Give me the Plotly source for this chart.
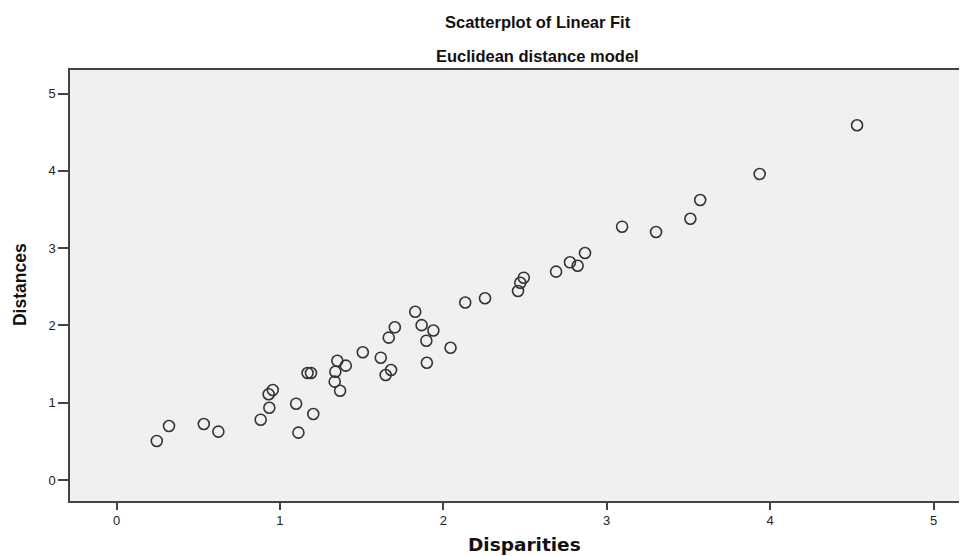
import plotly.graph_objects as go

# Data (Disparities vs Distances)
disparities = [0.246, 0.321, 0.534, 0.623, 0.882, 0.935, 0.931, 0.956, 1.099, 1.113,
               1.204, 1.169, 1.190, 1.335, 1.368, 1.339, 1.351, 1.403, 1.507, 1.617,
               1.680, 1.647, 1.666, 1.703, 1.828, 1.867, 1.939, 1.896, 1.899, 2.044,
               2.134, 2.255, 2.457, 2.471, 2.492, 2.690, 2.775, 2.822, 2.867, 3.094,
               3.302, 3.512, 3.572, 3.936, 4.532]
distances = [0.505, 0.699, 0.724, 0.625, 0.780, 0.935, 1.109, 1.164, 0.987, 0.612,
             0.854, 1.384, 1.384, 1.272, 1.155, 1.401, 1.543, 1.479, 1.652, 1.582,
             1.423, 1.358, 1.841, 1.975, 2.177, 2.003, 1.934, 1.802, 1.516, 1.711,
             2.296, 2.351, 2.445, 2.552, 2.617, 2.695, 2.816, 2.772, 2.937, 3.277,
             3.208, 3.380, 3.622, 3.959, 4.589]

tick_vals = [0, 1, 2, 3, 4, 5]
tick_text = ["0", "1", "2", "3", "4", "5"]

title_text = "Scatterplot of Linear Fit"
subtitle_text = "Euclidean distance model"
x_title = "Disparities"
y_title = "Distances"

fig = go.Figure()
fig.add_trace(go.Scatter(
    x=disparities, y=distances, mode="markers",
    marker=dict(symbol="circle-open", size=11, color="#333333",
                line=dict(width=1.6, color="#333333")),
    showlegend=False, hoverinfo="x+y",
))

axis_font = dict(family="Liberation Sans, Arial, sans-serif", size=13, color="#222222")

# The page body adds an 8px offset, so the figure is sized to the remaining window.
fig.update_layout(
    width=959, height=548,
    margin=dict(l=62, r=0, t=62, b=55),
    paper_bgcolor="white",
    plot_bgcolor="#f0f0f0",
    xaxis=dict(
        range=[-0.285, 5.205], tickvals=tick_vals, ticktext=tick_text,
        showgrid=False, zeroline=False, showline=True, linecolor="#444444",
        linewidth=1.5, mirror=True, ticks="outside", ticklen=7, tickwidth=1.5,
        tickcolor="#444444", tickfont=axis_font, fixedrange=True,
    ),
    yaxis=dict(
        range=[-0.272, 5.304], tickvals=tick_vals, ticktext=tick_text,
        showgrid=False, zeroline=False, showline=True, linecolor="#444444",
        linewidth=1.5, mirror=False, ticks="outside", ticklen=10, tickwidth=1.5,
        tickcolor="#444444", tickfont=axis_font, fixedrange=True,
    ),
    annotations=[
        dict(text=title_text, xref="paper", yref="paper", x=0.5217, y=1.112,
             xanchor="center", yanchor="middle", showarrow=False,
             font=dict(family="Liberation Sans, Arial, sans-serif", size=16.5,
                       color="#111111", weight="bold")),
        dict(text=subtitle_text, xref="paper", yref="paper", x=0.5217, y=1.0325,
             xanchor="center", yanchor="middle", showarrow=False,
             font=dict(family="Liberation Sans, Arial, sans-serif", size=16.5,
                       color="#111111", weight="bold")),
        dict(text=x_title, xref="paper", yref="paper", x=0.5072, y=-0.0998,
             xanchor="center", yanchor="middle", showarrow=False,
             font=dict(family="DejaVu Sans, sans-serif", size=18.5,
                       color="#111111", weight="bold")),
        dict(text=y_title, xref="paper", yref="paper", x=-0.0557, y=0.5012,
             xanchor="center", yanchor="middle", showarrow=False, textangle=-90,
             font=dict(family="Liberation Sans Narrow, Liberation Sans, Arial, sans-serif",
                       size=17.5, color="#111111", weight="bold")),
    ],
)

fig.write_html("out.html")
